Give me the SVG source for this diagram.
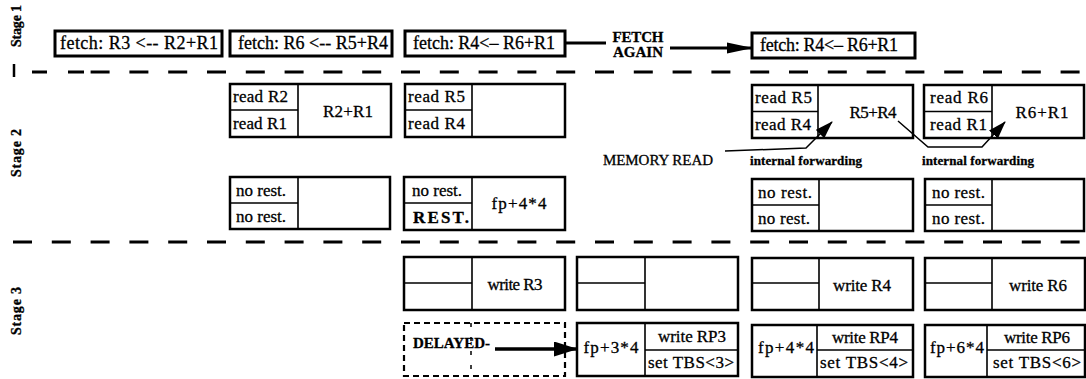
<svg xmlns="http://www.w3.org/2000/svg" width="1086" height="379" viewBox="0 0 1086 379">
<defs>
<style>
text{font-family:"Liberation Serif","Times New Roman",serif;fill:#000;stroke:#000;stroke-width:0.3}
.c{font-size:17px}
.f{font-size:18px}
.sm{font-size:15px}
.xs{font-size:13px}
.bd{font-weight:bold}
.mid{text-anchor:middle}
.box{fill:#fff;stroke:#000;stroke-width:2.5}
.box1{fill:#fff;stroke:#000;stroke-width:3}
.dv{fill:none;stroke:#000;stroke-width:1.6}
.dash{fill:none;stroke:#000;stroke-width:3;stroke-dasharray:19 19.8}
.ln{fill:none;stroke:#000}
</style>
<marker id="a1" markerUnits="userSpaceOnUse" viewBox="0 0 26 12" markerWidth="26" markerHeight="12" refX="25" refY="6" orient="auto"><path d="M0,0.5 L26,6 L0,11.5 Z" fill="#000"/></marker>
<marker id="a2" markerUnits="userSpaceOnUse" viewBox="0 0 18 12" markerWidth="18" markerHeight="12" refX="17" refY="6" orient="auto"><path d="M0,0 L18,6 L0,12 Z" fill="#000"/></marker>
<marker id="a3" markerUnits="userSpaceOnUse" viewBox="0 0 24 15" markerWidth="24" markerHeight="15" refX="23" refY="7.5" orient="auto"><path d="M0,0 L24,7.5 L0,15 Z" fill="#000"/></marker>
</defs>
<rect x="0" y="0" width="1086" height="379" fill="#fff"/>

<g id="stage-labels">
<text class="bd" font-size="14" text-anchor="middle" textLength="42" transform="translate(21,26) rotate(-90)">Stage 1</text>
<text class="bd" font-size="14" text-anchor="middle" textLength="48" transform="translate(21,153) rotate(-90)">Stage 2</text>
<text class="bd" font-size="14" text-anchor="middle" textLength="48" transform="translate(21,311) rotate(-90)">Stage 3</text>
<path class="ln" stroke-width="2.5" d="M14,64 V77"/>
</g>

<g id="separators">
<path class="ln" stroke-width="3" d="M32,72 H47 M68,72 H84"/>
<path class="dash" d="M90.6,72 H1086"/>
<path class="dash" d="M13,242 H1086"/>
</g>

<g id="fetch1"><rect class="box1" x="55" y="31" width="167" height="25"/><text class="f mid" x="139" y="49" textLength="158">fetch: R3 &lt;-- R2+R1</text></g>
<g id="fetch2"><rect class="box1" x="230" y="31" width="162" height="25"/><text class="f mid" x="313" y="49" textLength="150">fetch: R6 &lt;-- R5+R4</text></g>
<g id="fetch3"><rect class="box1" x="405" y="31" width="160" height="25"/><text class="f mid" x="484" y="49" textLength="142">fetch: R4&lt;– R6+R1</text></g>
<g id="fetch-again-label"><text class="sm bd mid" x="638" y="42" textLength="51">FETCH</text><text class="sm bd mid" x="638" y="57" textLength="50">AGAIN</text></g>
<g id="fetch4"><rect class="box1" x="752" y="33" width="163" height="25"/><text class="f mid" x="829" y="51" textLength="138">fetch: R4&lt;– R6+R1</text></g>

<g id="read-a"><rect class="box" x="230" y="84" width="161" height="53"/><path class="dv" d="M298,84 V137 M230,110 H298"/>
<text class="c" x="233" y="102" textLength="55">read R2</text><text class="c" x="233" y="129" textLength="54">read R1</text><text class="c mid" x="348" y="117" textLength="50">R2+R1</text></g>
<g id="read-b"><rect class="box" x="405" y="84" width="160" height="53"/><path class="dv" d="M472,84 V137 M405,110 H472"/>
<text class="c" x="408" y="102" textLength="57">read R5</text><text class="c" x="408" y="129" textLength="57">read R4</text></g>
<g id="read-c"><rect class="box" x="752" y="85" width="161" height="53"/><path class="dv" d="M818,85 V138 M752,111.5 H818"/>
<text class="c" x="755" y="103" textLength="57">read R5</text><text class="c" x="755" y="130" textLength="56">read R4</text><text class="c mid" x="873" y="118" textLength="47">R5+R4</text></g>
<g id="read-d"><rect class="box" x="924" y="85" width="160" height="53"/><path class="dv" d="M992,85 V138 M924,111.5 H992"/>
<text class="c" x="930" y="103" textLength="58">read R6</text><text class="c" x="930" y="130" textLength="57">read R1</text><text class="c mid" x="1042" y="118" textLength="53">R6+R1</text></g>

<g id="memory-read"><text class="sm" x="603" y="165" textLength="110">MEMORY READ</text></g>
<g id="fwd-label-1"><text class="xs bd" x="750" y="165" textLength="112">internal forwarding</text></g>
<g id="fwd-label-2"><text class="xs bd" x="922" y="165" textLength="112">internal forwarding</text></g>

<g id="rest-a"><rect class="box" x="230" y="177" width="160" height="52"/><path class="dv" d="M298,177 V229 M230,203 H298"/>
<text class="c" x="236" y="196" textLength="50">no rest.</text><text class="c" x="236" y="222" textLength="50">no rest.</text></g>
<g id="rest-b"><rect class="box" x="404" y="177" width="161" height="53"/><path class="dv" d="M472,177 V230 M404,203 H472"/>
<text class="c" x="412" y="196" textLength="50">no rest.</text><text class="c bd" x="413" y="223" textLength="56">REST.</text><text class="c mid" x="519" y="209" textLength="55">fp+4*4</text></g>
<g id="rest-c"><rect class="box" x="752" y="179" width="161" height="52"/><path class="dv" d="M819,179 V231 M752,205 H819"/>
<text class="c" x="758" y="198" textLength="54">no rest.</text><text class="c" x="758" y="224" textLength="52">no rest.</text></g>
<g id="rest-d"><rect class="box" x="925" y="179" width="159" height="52"/><path class="dv" d="M992,179 V231 M925,205 H992"/>
<text class="c" x="932" y="198" textLength="53">no rest.</text><text class="c" x="932" y="224" textLength="53">no rest.</text></g>

<g id="write-a"><rect class="box" x="404" y="257" width="161" height="53"/><path class="dv" d="M472,257 V310 M404,283 H472"/>
<text class="c mid" x="515" y="290" textLength="55">write R3</text></g>
<g id="write-b"><rect class="box" x="577" y="257" width="161" height="53"/><path class="dv" d="M645,257 V310 M577,283 H645"/></g>
<g id="write-c"><rect class="box" x="752" y="258" width="161" height="52"/><path class="dv" d="M819,258 V310 M752,283 H819"/>
<text class="c mid" x="862" y="291" textLength="58">write R4</text></g>
<g id="write-d"><rect class="box" x="925" y="258" width="160" height="52"/><path class="dv" d="M992,258 V310 M925,283 H992"/>
<text class="c mid" x="1038" y="291" textLength="58">write R6</text></g>

<g id="delayed"><rect x="404" y="323" width="161" height="53" fill="none" stroke="#000" stroke-width="2.2" stroke-dasharray="6 4"/><path class="ln" stroke-width="1.5" stroke-dasharray="4 10" d="M471,323 V376"/>
<text class="sm bd" x="413" y="348" textLength="77">DELAYED-</text></g>
<g id="rp-3"><rect class="box" x="577" y="323" width="161" height="53"/><path class="dv" d="M645,323 V376 M645,350 H738"/>
<text class="c mid" x="611" y="353" textLength="55">fp+3*4</text><text class="c mid" x="692" y="342" textLength="68">write RP3</text><text class="c mid" x="691" y="368" textLength="86">set TBS&lt;3&gt;</text></g>
<g id="rp-4"><rect class="box" x="752" y="325" width="161" height="52"/><path class="dv" d="M817,325 V377 M817,350 H913"/>
<text class="c mid" x="786" y="353" textLength="56">fp+4*4</text><text class="c mid" x="865" y="343" textLength="66">write RP4</text><text class="c mid" x="864" y="368" textLength="88">set TBS&lt;4&gt;</text></g>
<g id="rp-6"><rect class="box" x="925" y="325" width="160" height="52"/><path class="dv" d="M987,325 V377 M987,350 H1085"/>
<text class="c mid" x="957" y="353" textLength="54">fp+6*4</text><text class="c mid" x="1037" y="343" textLength="66">write RP6</text><text class="c mid" x="1037" y="368" textLength="88">set TBS&lt;6&gt;</text></g>

<g id="connectors">
<path class="ln" stroke-width="3" d="M565,43 H606"/>
<path class="ln" stroke-width="3" d="M670,48 H752" marker-end="url(#a1)"/>
<path class="ln" stroke-width="1.5" d="M725,151 L806,148 L832,122" marker-end="url(#a2)"/>
<path class="ln" stroke-width="1.5" d="M898,121 L928,147 L982,147 L1005,122" marker-end="url(#a2)"/>
<path class="ln" stroke-width="3.5" d="M495,349 H577" marker-end="url(#a3)"/>
</g>
</svg>
